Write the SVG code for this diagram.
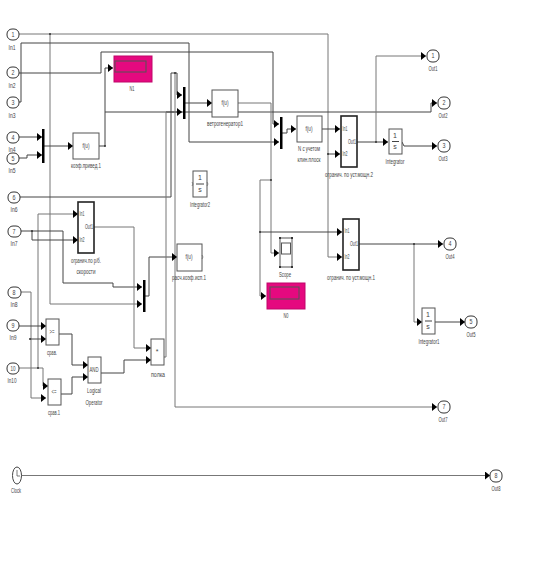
<svg xmlns="http://www.w3.org/2000/svg" width="533" height="576" viewBox="0 0 533 576">
<style>
text{font-family:"Liberation Sans",Arial,sans-serif;font-size:7px;fill:#444;text-anchor:middle}
.p{fill:#fff;stroke:#333;stroke-width:1}
.b{fill:#fff;stroke:#555;stroke-width:1}
.s{fill:#fff;stroke:#222;stroke-width:1.6}
.m{fill:#000;stroke:none}
.d{fill:#e5097f;stroke:#c0066a;stroke-width:1}
.i{fill:#e5097f;stroke:#555;stroke-width:1}
#wires polyline{fill:none;stroke:#444;stroke-width:1}
#wires .g{stroke:#777}
</style>
<defs>
<marker id="a" markerUnits="userSpaceOnUse" markerWidth="6" markerHeight="8" refX="5" refY="4" orient="auto"><path d="M0,0L5,4L0,8Z" fill="#000"/></marker>
</defs>
<rect width="533" height="576" fill="#fff"/>
<g id="wires">
<polyline points="19,34 328,34 328,257 342,257" class="g" marker-end="url(#a)"/>
<polyline points="50,34 50,304 142,304" class="g" marker-end="url(#a)"/>
<polyline points="19,102 21,102 21,43 189,43 189,142 279,142" marker-end="url(#a)"/>
<polyline points="19,73 101,73 101,52 273,52 273,124 279,124" marker-end="url(#a)"/>
<polyline points="19,137 42,137" marker-end="url(#a)"/>
<polyline points="19,158 27,158 27,155 42,155" marker-end="url(#a)"/>
<polyline points="43,146 73,146" marker-end="url(#a)"/>
<polyline points="99,146 105,146 105,68 113,68" marker-end="url(#a)"/>
<polyline points="105,112 431,112 431,103 437,103" marker-end="url(#a)"/>
<polyline points="166,112 182,112" marker-end="url(#a)"/>
<polyline points="19,197 171,197 171,73 177,73 177,95 182,95" marker-end="url(#a)"/>
<polyline points="175,73 175,407 437,407" class="g" marker-end="url(#a)"/>
<polyline points="184,103 212,103" marker-end="url(#a)"/>
<polyline points="238,103 271,103 271,253 279,253" class="g" marker-end="url(#a)"/>
<polyline points="271,180 260,180 260,296 266,296" class="g" marker-end="url(#a)"/>
<polyline points="260,232 342,232" marker-end="url(#a)"/>
<polyline points="281,133 287,133 287,129 296,129" marker-end="url(#a)"/>
<polyline points="322,129 340,129" marker-end="url(#a)"/>
<polyline points="328,154 340,154" marker-end="url(#a)"/>
<polyline points="357,142 388,142" marker-end="url(#a)"/>
<polyline points="376,142 376,56 426,56" class="g" marker-end="url(#a)"/>
<polyline points="402,142 404,146 437,146" marker-end="url(#a)"/>
<polyline points="359,244 443,244" marker-end="url(#a)"/>
<polyline points="414,244 414,322 422,322" class="g" marker-end="url(#a)"/>
<polyline points="435,322 465,322" marker-end="url(#a)"/>
<polyline points="38,368 38,214 78,214" class="g" marker-end="url(#a)"/>
<polyline points="21,231 63,231 63,283 113,283 113,287 142,287" marker-end="url(#a)"/>
<polyline points="32,231 32,240 78,240" marker-end="url(#a)"/>
<polyline points="94,227 134,227 134,348 151,348" class="g" marker-end="url(#a)"/>
<polyline points="144,296 149,296 149,257 177,257" marker-end="url(#a)"/>
<polyline points="21,292 31,292 31,398 46,398" class="g" marker-end="url(#a)"/>
<polyline points="19,326 46,326" marker-end="url(#a)"/>
<polyline points="30,339 46,339" marker-end="url(#a)"/>
<polyline points="19,368 43,368 43,386 48,386" class="g" marker-end="url(#a)"/>
<polyline points="59,334 72,334 72,365 88,365" marker-end="url(#a)"/>
<polyline points="61,394 72,394 72,377 88,377" marker-end="url(#a)"/>
<polyline points="101,373 124,373 124,360 151,360" marker-end="url(#a)"/>
<polyline points="164,357 166,357 166,112" class="g"/>
<polyline points="21,475.5 490,475.5" class="g" marker-end="url(#a)"/>
</g>
<g id="In1"><rect class="p" x="7" y="29" width="12" height="11" rx="5"/><text x="13" y="37" textLength="3" lengthAdjust="spacingAndGlyphs">1</text><text x="12" y="50" textLength="7" lengthAdjust="spacingAndGlyphs">In1</text></g>
<g id="In2"><rect class="p" x="7" y="67" width="12" height="11" rx="5"/><text x="13" y="75" textLength="3" lengthAdjust="spacingAndGlyphs">2</text><text x="12" y="88" textLength="7" lengthAdjust="spacingAndGlyphs">In2</text></g>
<g id="In3"><rect class="p" x="7" y="97" width="12" height="11" rx="5"/><text x="13" y="105" textLength="3" lengthAdjust="spacingAndGlyphs">3</text><text x="12" y="118" textLength="7" lengthAdjust="spacingAndGlyphs">In3</text></g>
<g id="In4"><rect class="p" x="7" y="132" width="12" height="11" rx="5"/><text x="13" y="140" textLength="3" lengthAdjust="spacingAndGlyphs">4</text><text x="12" y="152" textLength="7" lengthAdjust="spacingAndGlyphs">In4</text></g>
<g id="In5"><rect class="p" x="7" y="153" width="12" height="11" rx="5"/><text x="13" y="161" textLength="3" lengthAdjust="spacingAndGlyphs">5</text><text x="12" y="173" textLength="7" lengthAdjust="spacingAndGlyphs">In5</text></g>
<g id="In6"><rect class="p" x="8" y="192" width="12" height="11" rx="5"/><text x="14" y="200" textLength="3" lengthAdjust="spacingAndGlyphs">6</text><text x="14" y="212" textLength="7" lengthAdjust="spacingAndGlyphs">In6</text></g>
<g id="In7"><rect class="p" x="8" y="226" width="13" height="11" rx="5"/><text x="14" y="234" textLength="3" lengthAdjust="spacingAndGlyphs">7</text><text x="14" y="246" textLength="7" lengthAdjust="spacingAndGlyphs">In7</text></g>
<g id="In8"><rect class="p" x="8" y="287" width="13" height="11" rx="5"/><text x="14" y="295" textLength="3" lengthAdjust="spacingAndGlyphs">8</text><text x="14" y="307" textLength="7" lengthAdjust="spacingAndGlyphs">In8</text></g>
<g id="In9"><rect class="p" x="7" y="320" width="12" height="11" rx="5"/><text x="13" y="328" textLength="3" lengthAdjust="spacingAndGlyphs">9</text><text x="13" y="340" textLength="7" lengthAdjust="spacingAndGlyphs">In9</text></g>
<g id="In10"><rect class="p" x="7" y="363" width="12" height="11" rx="5"/><text x="13" y="371" textLength="5" lengthAdjust="spacingAndGlyphs">10</text><text x="12" y="383" textLength="9" lengthAdjust="spacingAndGlyphs">In10</text></g>
<g id="Mux1"><rect class="m" x="42" y="129" width="2.5" height="34"/></g>
<g id="Mux2"><rect class="m" x="183" y="87" width="2.5" height="32"/></g>
<g id="Mux3"><rect class="m" x="280" y="117" width="2.5" height="32"/></g>
<g id="Mux4"><rect class="m" x="143" y="280" width="2.5" height="32"/></g>
<g id="Fcn1"><rect class="b" x="73" y="133" width="26" height="26"/><text x="86" y="148" textLength="7" lengthAdjust="spacingAndGlyphs">f(u)</text><text x="86" y="168" textLength="30" lengthAdjust="spacingAndGlyphs">коэф.привед.1</text></g>
<g id="N1"><rect class="d" x="114" y="56" width="38" height="26"/><rect class="i" x="115" y="61" width="31" height="11"/><text x="132" y="91" textLength="5" lengthAdjust="spacingAndGlyphs">N1</text></g>
<g id="Fcn2"><rect class="b" x="212" y="90" width="26" height="27"/><text x="225" y="105" textLength="7" lengthAdjust="spacingAndGlyphs">f(u)</text><text x="225" y="126" textLength="36" lengthAdjust="spacingAndGlyphs">ветрогенератор1</text></g>
<g id="Fcn3"><rect class="b" x="297" y="116" width="25" height="26"/><text x="309" y="131" textLength="7" lengthAdjust="spacingAndGlyphs">f(u)</text><text x="309" y="151" textLength="22" lengthAdjust="spacingAndGlyphs">N с учетом</text><text x="309" y="162" textLength="23" lengthAdjust="spacingAndGlyphs">клин.плоск</text></g>
<g id="Limit2"><rect class="s" x="341" y="116" width="16" height="51"/><text x="345" y="131" textLength="5" lengthAdjust="spacingAndGlyphs">In1</text><text x="345" y="156" textLength="5" lengthAdjust="spacingAndGlyphs">In2</text><text x="352" y="144" textLength="8" lengthAdjust="spacingAndGlyphs">Out1</text><text x="349" y="177" textLength="48" lengthAdjust="spacingAndGlyphs">огранич. по уст.мощн.2</text></g>
<g id="Integrator"><rect class="b" x="389" y="129" width="13" height="25"/><text x="395" y="138">1</text><path d="M392,141.5H399" stroke="#444"/><text x="395" y="149">s</text><text x="395" y="164" textLength="19" lengthAdjust="spacingAndGlyphs">Integrator</text></g>
<g id="Out1"><rect class="p" x="427" y="50" width="12" height="12" rx="5"/><text x="433" y="58" textLength="3" lengthAdjust="spacingAndGlyphs">1</text><text x="433" y="71" textLength="9" lengthAdjust="spacingAndGlyphs">Out1</text></g>
<g id="Out2"><rect class="p" x="438" y="97" width="12" height="12" rx="5"/><text x="444" y="105" textLength="3" lengthAdjust="spacingAndGlyphs">2</text><text x="443" y="118" textLength="9" lengthAdjust="spacingAndGlyphs">Out2</text></g>
<g id="Out3"><rect class="p" x="438" y="140" width="12" height="12" rx="5"/><text x="444" y="148" textLength="3" lengthAdjust="spacingAndGlyphs">3</text><text x="443" y="161" textLength="9" lengthAdjust="spacingAndGlyphs">Out3</text></g>
<g id="Integrator2"><rect class="b" x="193" y="171" width="14" height="26"/><text x="200" y="180">1</text><path d="M196,184H204" stroke="#444"/><text x="200" y="192">s</text><path d="M192,182L193,184L192,186M207,182L208,184L207,186" fill="none" stroke="#555" stroke-width=".6"/><text x="200" y="207" textLength="20" lengthAdjust="spacingAndGlyphs">Integrator2</text></g>
<g id="Limit3"><rect class="s" x="78" y="202" width="16" height="51"/><text x="82" y="216" textLength="5" lengthAdjust="spacingAndGlyphs">In1</text><text x="82" y="242" textLength="5" lengthAdjust="spacingAndGlyphs">In2</text><text x="89" y="229" textLength="8" lengthAdjust="spacingAndGlyphs">Out1</text><text x="86" y="263" textLength="30" lengthAdjust="spacingAndGlyphs">огранич.по р/б.</text><text x="86" y="274" textLength="19" lengthAdjust="spacingAndGlyphs">скорости</text></g>
<g id="Fcn4"><rect class="b" x="177" y="244" width="25" height="27"/><text x="189" y="259" textLength="7" lengthAdjust="spacingAndGlyphs">f(u)</text><path d="M202,255L203,257L202,259" fill="none" stroke="#555" stroke-width=".6"/><text x="189" y="280" textLength="34" lengthAdjust="spacingAndGlyphs">расч.коэф.исп.1</text></g>
<g id="Limit1"><rect class="s" x="343" y="219" width="16" height="51"/><text x="347" y="233" textLength="5" lengthAdjust="spacingAndGlyphs">In1</text><text x="347" y="259" textLength="5" lengthAdjust="spacingAndGlyphs">In2</text><text x="354" y="246" textLength="8" lengthAdjust="spacingAndGlyphs">Out1</text><text x="351" y="280" textLength="48" lengthAdjust="spacingAndGlyphs">огранич. по уст.мощн.1</text></g>
<g id="Scope"><rect class="b" x="280" y="238" width="12" height="29"/><rect x="281.500" y="243" width="9" height="11" fill="#fff" stroke="#555"/><path d="M279,237h2v2h-2zM291,237h2v2h-2zM279,266h2v2h-2zM291,266h2v2h-2z" fill="#333"/><text x="285" y="277" textLength="12" lengthAdjust="spacingAndGlyphs">Scope</text></g>
<g id="N0"><rect class="d" x="267" y="283" width="38" height="26"/><rect class="i" x="270" y="287" width="29" height="12"/><text x="286" y="318" textLength="5" lengthAdjust="spacingAndGlyphs">N0</text></g>
<g id="Out4"><rect class="p" x="444" y="238" width="12" height="12" rx="5"/><text x="450" y="246" textLength="3" lengthAdjust="spacingAndGlyphs">4</text><text x="450" y="259" textLength="9" lengthAdjust="spacingAndGlyphs">Out4</text></g>
<g id="Integrator1"><rect class="b" x="422" y="308" width="13" height="26"/><text x="428" y="317">1</text><path d="M425,321H432" stroke="#444"/><text x="428" y="329">s</text><text x="429" y="344" textLength="21" lengthAdjust="spacingAndGlyphs">Integrator1</text></g>
<g id="Out5"><rect class="p" x="465" y="316" width="12" height="12" rx="5"/><text x="471" y="324" textLength="3" lengthAdjust="spacingAndGlyphs">5</text><text x="471" y="337" textLength="9" lengthAdjust="spacingAndGlyphs">Out5</text></g>
<g id="Compare1"><rect class="b" x="46" y="319" width="13" height="26"/><text x="52" y="334" textLength="5" lengthAdjust="spacingAndGlyphs">&gt;=</text><text x="52" y="355" textLength="10" lengthAdjust="spacingAndGlyphs">срав.</text></g>
<g id="Compare2"><rect class="b" x="48" y="379" width="13" height="26"/><text x="54" y="394" textLength="5" lengthAdjust="spacingAndGlyphs">&lt;=</text><text x="54" y="415" textLength="12" lengthAdjust="spacingAndGlyphs">срав.1</text></g>
<g id="Logical"><rect class="b" x="88" y="357" width="13" height="26"/><text x="94" y="372" textLength="9" lengthAdjust="spacingAndGlyphs">AND</text><text x="94" y="393" textLength="14" lengthAdjust="spacingAndGlyphs">Logical</text><text x="94" y="405" textLength="17" lengthAdjust="spacingAndGlyphs">Operator</text></g>
<g id="Product"><rect class="b" x="151" y="339" width="13" height="26"/><text x="157" y="354">*</text><text x="158" y="377" textLength="14" lengthAdjust="spacingAndGlyphs">полка</text></g>
<g id="Out7"><rect class="p" x="438" y="401" width="12" height="12" rx="5"/><text x="444" y="409" textLength="3" lengthAdjust="spacingAndGlyphs">7</text><text x="443" y="422" textLength="9" lengthAdjust="spacingAndGlyphs">Out7</text></g>
<g id="Clock"><ellipse cx="17" cy="475.500" rx="4.500" ry="8.500" fill="#fff" stroke="#444"/><path d="M17,470V476H20" fill="none" stroke="#444" stroke-width=".7"/><text x="16" y="493" textLength="10" lengthAdjust="spacingAndGlyphs">Clock</text></g>
<g id="Out8"><rect class="p" x="490" y="470" width="12" height="12" rx="5"/><text x="496" y="478" textLength="3" lengthAdjust="spacingAndGlyphs">8</text><text x="496" y="491" textLength="9" lengthAdjust="spacingAndGlyphs">Out8</text></g>
<g id="junctions" fill="#333"><circle cx="50" cy="34" r="1"/><circle cx="105" cy="146" r="1"/><circle cx="175" cy="73" r="1"/><circle cx="32" cy="231" r="1"/><circle cx="38" cy="368" r="1"/><circle cx="30" cy="339" r="1"/><circle cx="376" cy="142" r="1"/><circle cx="414" cy="244" r="1"/><circle cx="260" cy="232" r="1"/><circle cx="271" cy="180" r="1"/><circle cx="328" cy="154" r="1"/></g>
</svg>
